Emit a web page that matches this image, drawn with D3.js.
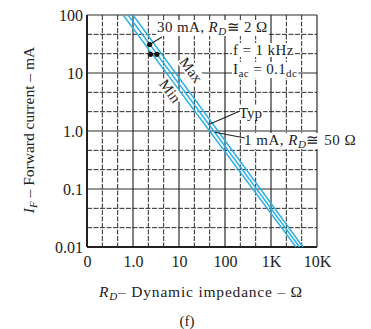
<!DOCTYPE html>
<html>
<head>
<meta charset="utf-8">
<script src="https://cdn.jsdelivr.net/npm/d3@7"></script>
<style>
body { margin: 0; background: #fff; }
svg { display: block; }
text { font-family: "Liberation Serif", "DejaVu Serif", serif; fill: #222; }
</style>
</head>
<body>
<div id="field"></div>
<script>
// values
const xTickValues = [0.1, 1, 10, 100, 1000, 10000];
const xTickLabels = ["0", "1.0", "10", "100", "1K", "10K"];
const yTickValues = [0.01, 0.1, 1, 10, 100];
const yTickLabels = ["0.01", "0.1", "1.0", "10", "100"];

// each series: [current mA, impedance ohm] at the top and bottom of the plot
const seriesNames = ["Min", "Typ", "Max"];
const minLine = [[100, 0.61], [0.01, 3500]];
const typLine = [[100, 0.78], [0.01, 4150]];
const maxLine = [[100, 1.0], [0.01, 4950]];

// black dots near 30 mA
const dotCurrents = [31, 21, 21];
const dotImpedances = [2.3, 2.4, 3.3];

const width = 371, height = 329;
const margin = {top: 15, right: 54, bottom: 82, left: 87};

const svg = d3.select("#field").append("svg")
    .attr("width", width)
    .attr("height", height);

const x = d3.scaleLog()
    .domain([0.1, 10000])
    .range([margin.left, width - margin.right]);

const y = d3.scaleLog()
    .domain([0.01, 100])
    .range([height - margin.bottom, margin.top]);

// grid: every decade split in three
function gridValues(lo, hi) {
    const out = [];
    for (let e = lo; e <= hi; e++) {
        for (let k = 0; k < 3; k++) {
            if (e === hi && k > 0) break;
            out.push({v: Math.pow(10, e + k / 3), major: k === 0});
        }
    }
    return out;
}

const grid = svg.append("g").attr("class", "grid");

grid.selectAll("line.vx")
    .data(gridValues(-1, 4))
    .enter().append("line")
    .attr("x1", d => x(d.v)).attr("x2", d => x(d.v))
    .attr("y1", y(100)).attr("y2", y(0.01))
    .attr("stroke", "#2a2a2a")
    .attr("stroke-width", d => d.major ? 1.2 : 1)
    .attr("stroke-dasharray", d => d.major ? null : "5,1.5");

grid.selectAll("line.hy")
    .data(gridValues(-2, 2))
    .enter().append("line")
    .attr("y1", d => y(d.v)).attr("y2", d => y(d.v))
    .attr("x1", x(0.1)).attr("x2", x(10000))
    .attr("stroke", "#2a2a2a")
    .attr("stroke-width", d => d.major ? 1.2 : 1)
    .attr("stroke-dasharray", d => d.major ? null : "5,1.5");

// axes frame
svg.append("line")
    .attr("x1", x(0.1)).attr("x2", x(0.1))
    .attr("y1", y(100)).attr("y2", y(0.01))
    .attr("stroke", "#222").attr("stroke-width", 2);
svg.append("line")
    .attr("x1", x(0.1)).attr("x2", x(10000))
    .attr("y1", y(0.01)).attr("y2", y(0.01))
    .attr("stroke", "#222").attr("stroke-width", 2);

// tick labels through d3 axes
const xAxis = d3.axisBottom(x)
    .tickValues(xTickValues)
    .tickFormat((d, i) => xTickLabels[i])
    .tickSize(0).tickPadding(9);

svg.append("g")
    .attr("transform", "translate(0," + y(0.01) + ")")
    .call(xAxis)
    .call(g => g.select(".domain").remove())
    .selectAll("text")
    .attr("font-size", 16)
    .attr("font-family", "Liberation Serif")
    .attr("fill", "#222");

const yAxis = d3.axisLeft(y)
    .tickValues(yTickValues)
    .tickFormat((d, i) => yTickLabels[i])
    .tickSize(0).tickPadding(4);

svg.append("g")
    .attr("transform", "translate(" + x(0.1) + ",0)")
    .call(yAxis)
    .call(g => g.select(".domain").remove())
    .selectAll("text")
    .attr("font-size", 16)
    .attr("font-family", "Liberation Serif")
    .attr("fill", "#222");

// blue lines
const lineGen = d3.line()
    .x(d => x(d[1]))
    .y(d => y(d[0]));

const lines = [minLine, typLine, maxLine];
svg.append("g").selectAll("path")
    .data(lines)
    .enter().append("path")
    .attr("d", lineGen)
    .attr("fill", "none")
    .attr("stroke", "#2ab0e6")
    .attr("stroke-width", 1.4);

// impedance on a line at a given current (straight in log-log)
function impedanceAt(line, current) {
    const t = (Math.log10(current) - Math.log10(line[0][0])) /
              (Math.log10(line[1][0]) - Math.log10(line[0][0]));
    return Math.pow(10, Math.log10(line[0][1]) + t * (Math.log10(line[1][1]) - Math.log10(line[0][1])));
}

const ann = svg.append("g");

function labelWithBg(g, build) {
    const t = g.append("text");
    build(t);
    const b = t.node().getBBox();
    g.insert("rect", function() { return t.node(); })
        .attr("x", b.x - 1).attr("y", b.y + 1)
        .attr("width", b.width + 2).attr("height", b.height - 2)
        .attr("fill", "#fff");
    return t;
}

// leader lines
function leader(x1, y1, x2, y2) {
    ann.append("line")
        .attr("x1", x1).attr("y1", y1).attr("x2", x2).attr("y2", y2)
        .attr("stroke", "#222").attr("stroke-width", 1.1);
}

// 30 mA note
labelWithBg(ann.append("g"), t => {
    t.attr("x", 157).attr("y", 32).attr("font-size", 15).attr("letter-spacing", 0.4);
    t.append("tspan").text("30 mA, ");
    t.append("tspan").attr("font-style", "italic").text("R");
    t.append("tspan").attr("font-size", 11).attr("font-style", "italic").attr("dy", 3).text("D");
    t.append("tspan").attr("dy", -3).text("\u2245 2 \u03a9");
});
leader(162, 37, x(dotImpedances[0]), y(dotCurrents[0]));

svg.append("g").selectAll("circle")
    .data(dotCurrents)
    .enter().append("circle")
    .attr("cx", (d, i) => x(dotImpedances[i]))
    .attr("cy", d => y(d))
    .attr("r", 2.6)
    .attr("fill", "#111");

labelWithBg(ann.append("g"), t => {
    t.attr("x", 233).attr("y", 55).attr("font-size", 15).attr("letter-spacing", 0.4).text("f = 1 kHz");
});
labelWithBg(ann.append("g"), t => {
    t.attr("x", 233).attr("y", 74).attr("font-size", 15).attr("letter-spacing", 0.4);
    t.append("tspan").text("I");
    t.append("tspan").attr("font-size", 11).attr("dy", 3).text("ac");
    t.append("tspan").attr("dy", -3).text(" = 0.1");
    t.append("tspan").attr("font-size", 11).attr("dy", 3).text("dc");
});

labelWithBg(ann.append("g"), t => {
    t.attr("x", 239).attr("y", 118).attr("font-size", 15).text("Typ");
});
leader(240, 111, x(impedanceAt(typLine, 1.3)), y(1.3));

labelWithBg(ann.append("g"), t => {
    t.attr("x", 244).attr("y", 145).attr("font-size", 15).attr("letter-spacing", 0.5);
    t.append("tspan").text("1 mA, ");
    t.append("tspan").attr("font-style", "italic").text("R");
    t.append("tspan").attr("font-size", 11).attr("font-style", "italic").attr("dy", 3).text("D");
    t.append("tspan").attr("dy", -3).text("\u2245 50 \u03a9");
});
leader(245, 138, x(impedanceAt(typLine, 0.95)), y(0.95));

// rotated labels along the lines
const angle = Math.atan2(y(0.01) - y(100), x(typLine[1][1]) - x(typLine[0][1])) * 180 / Math.PI;

function rotatedLabel(txt, cx, cy) {
    const g = ann.append("g").attr("transform", "translate(" + cx + "," + cy + ") rotate(" + angle + ")");
    labelWithBg(g, t => {
        t.attr("x", 0).attr("y", 5).attr("text-anchor", "middle").attr("font-size", 15).text(txt);
    });
}
rotatedLabel("Max", 191, 70);
rotatedLabel("Min", 170, 91);

// axis titles
const yt = svg.append("text")
    .attr("transform", "translate(34," + 130 + ") rotate(-90)")
    .attr("text-anchor", "middle")
    .attr("font-size", 15.5);
yt.append("tspan").attr("font-style", "italic").text("I");
yt.append("tspan").attr("font-size", 11).attr("font-style", "italic").attr("dy", 3).text("F");
yt.append("tspan").attr("dy", -3).text(" \u2013 Forward current \u2013 mA");

const xt = svg.append("text")
    .attr("x", 201).attr("y", 297)
    .attr("text-anchor", "middle")
    .attr("font-size", 15.5)
    .attr("letter-spacing", 0.8);
xt.append("tspan").attr("font-style", "italic").text("R");
xt.append("tspan").attr("font-size", 11).attr("font-style", "italic").attr("dy", 3).text("D");
xt.append("tspan").attr("dy", -3).text("\u2013 Dynamic impedance \u2013 \u03a9");

svg.append("text")
    .attr("x", 187).attr("y", 326)
    .attr("text-anchor", "middle")
    .attr("font-size", 15)
    .text("(f)");
</script>
</body>
</html>
